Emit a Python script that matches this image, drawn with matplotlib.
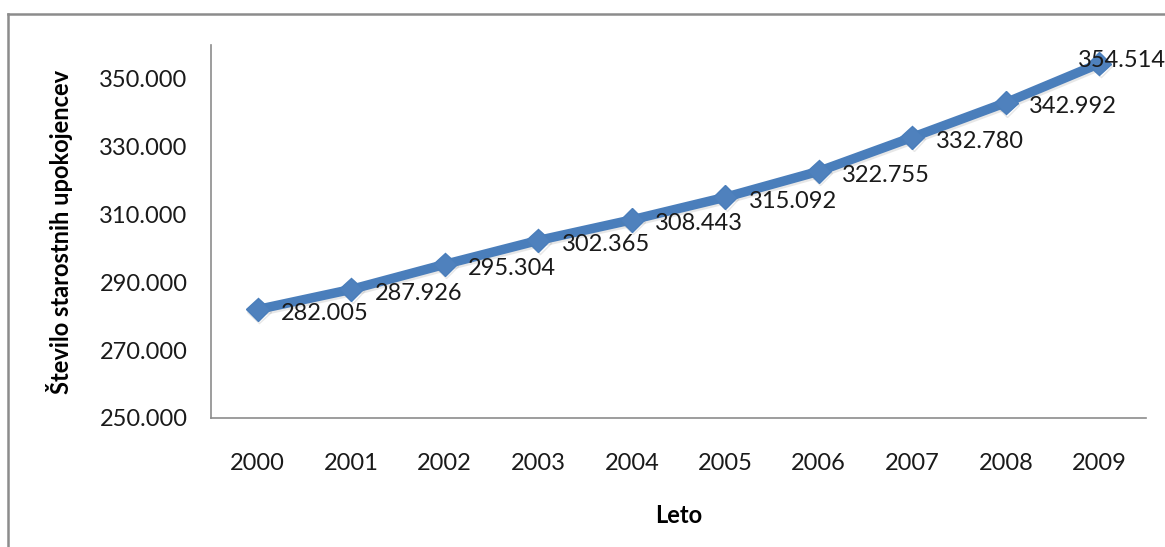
import matplotlib
matplotlib.use("Agg")
import matplotlib.pyplot as plt
import matplotlib.patheffects as pe
from matplotlib.lines import Line2D
from matplotlib.ticker import FuncFormatter

# Number of old-age pensioners per year
years = ["2000", "2001", "2002", "2003", "2004", "2005", "2006", "2007", "2008", "2009"]
pensioners = [282005, 287926, 295304, 302365, 308443, 315092, 322755, 332780, 342992, 354514]
y_ticks = [250000, 270000, 290000, 310000, 330000, 350000]

plt.rcParams['font.family'] = ['Lato', 'DejaVu Sans']

def dotted_thousands(v, pos=None):
    return f"{int(round(v)):,}".replace(",", ".")

fig = plt.figure(figsize=(11.65, 5.47), dpi=100)
ax = fig.add_axes([211 / 1165, 1 - 418 / 547, (1146 - 211) / 1165, (418 - 45) / 547])

x = list(range(len(years)))
line_color = '#4a7ebb'
ax.plot(x, pensioners, color=line_color, linewidth=6.8, marker='D', markersize=12,
        markerfacecolor='#4f81bd', markeredgecolor=line_color, solid_joinstyle='round',
        path_effects=[pe.SimpleLineShadow(offset=(1, -1.5), shadow_color='#7f7f7f', alpha=0.18),
                      pe.Normal()])

# value labels to the right of each point; the last one is pulled back inside the chart
for i, v in enumerate(pensioners):
    dx = 17 if i < len(pensioners) - 1 else -15
    dy = -3 if i < len(pensioners) - 1 else 2
    ax.annotate(dotted_thousands(v), (i, v), xytext=(dx, dy), textcoords='offset points',
                ha='left', va='center', fontsize=17, color='#1a1a1a')

ax.set_xlim(-0.5, len(years) - 0.5)
ax.set_ylim(250000, 360000)
ax.set_xticks(x)
ax.set_xticklabels(years)
ax.set_yticks(y_ticks)
ax.yaxis.set_major_formatter(FuncFormatter(dotted_thousands))
ax.tick_params(axis='both', length=0, labelsize=17, labelcolor='#1a1a1a')
ax.tick_params(axis='x', pad=25)
ax.tick_params(axis='y', pad=17)

for side in ['top', 'right']:
    ax.spines[side].set_visible(False)
for side in ['left', 'bottom']:
    ax.spines[side].set_color('#8c8c8c')
    ax.spines[side].set_linewidth(1.2)

ax.set_xlabel("Leto", fontsize=17, fontweight='bold', labelpad=22)
ax.set_ylabel("Število starostnih upokojencev", fontsize=17, fontweight='bold', labelpad=19)

# outer chart frame
fig.add_artist(Line2D([7.5 / 1165, 7.5 / 1165], [0, 1 - 14 / 547], transform=fig.transFigure,
                      color='#8c8c8c', linewidth=1.8))
fig.add_artist(Line2D([7.5 / 1165, 1], [1 - 14 / 547, 1 - 14 / 547], transform=fig.transFigure,
                      color='#8c8c8c', linewidth=1.8))

fig.savefig("out.png", dpi=100)
